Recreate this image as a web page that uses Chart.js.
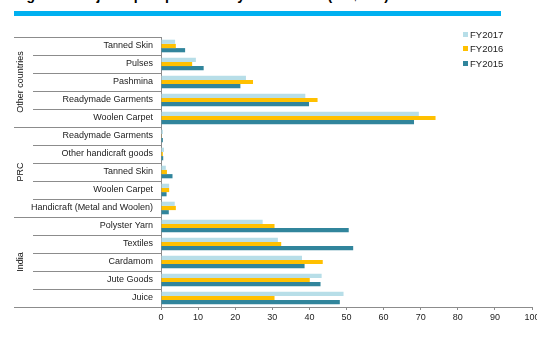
<!DOCTYPE html>
<html>
<head>
<meta charset="utf-8">
<script src="https://cdn.jsdelivr.net/npm/chart.js@4"></script>
<style>
  html, body { margin: 0; padding: 0; background: #fff; }
  #wrap { position: relative; width: 537px; height: 339px; overflow: hidden; font-family: "Liberation Sans", Arial, sans-serif; }
  #title { position: absolute; left: 14px; top: -12px; font-size: 14px; line-height: 14px; font-weight: bold; color: #000; white-space: nowrap; }
  #bar { position: absolute; left: 14px; top: 11px; width: 487px; height: 5px; background: #00B0F0; }
  #legend { position: absolute; left: 463px; top: 29px; font-size: 9.5px; color: #222; }
  #legend div { height: 14.3px; line-height: 12px; white-space: nowrap; }
  #legend span { display: inline-block; width: 5px; height: 5px; margin-right: 2px; vertical-align: 1px; }
  canvas { position: absolute; left: 0; top: 0; }
</style>
</head>
<body>
<div id="wrap">
  <div id="title">Figure 5: Major export products by destination (US$ mn)</div>
  <div id="bar"></div>
  <canvas id="c" width="537" height="339"></canvas>
  <div id="legend"></div>
</div>
<script>
// 카테고리 / 그룹
const categories = [
  'Tanned Skin', 'Pulses', 'Pashmina', 'Readymade Garments', 'Woolen Carpet',
  'Readymade Garments', 'Other handicraft goods', 'Tanned Skin', 'Woolen Carpet', 'Handicraft (Metal and Woolen)',
  'Polyster Yarn', 'Textiles', 'Cardamom', 'Jute Goods', 'Juice'
];
const groupNames = ['Other countries', 'PRC', 'India'];
const groupSizes = [5, 5, 5];

// 시리즈 값
const fy2017 = [3.8, 9.4, 22.9, 38.9, 69.5, 0.5, 0.8, 1.3, 2.2, 3.7, 27.4, 31.5, 38.0, 43.3, 49.2];
const fy2016 = [4.0, 8.4, 24.8, 42.2, 74.0, 0.1, 0.5, 1.6, 2.2, 4.0, 30.6, 32.4, 43.6, 40.1, 30.6];
const fy2015 = [6.5, 11.5, 21.4, 39.9, 68.2, 0.5, 0.6, 3.1, 1.5, 2.1, 50.6, 51.8, 38.7, 43.0, 48.2];

const xTicks = [0, 10, 20, 30, 40, 50, 60, 70, 80, 90, 100];

const series = [
  { label: 'FY2017', data: fy2017, color: '#B7DEE8' },
  { label: 'FY2016', data: fy2016, color: '#FFC000' },
  { label: 'FY2015', data: fy2015, color: '#31859C' }
];

const FONT = '"Liberation Sans", Arial, sans-serif';

// 범례
const legend = document.getElementById('legend');
series.forEach(s => {
  const row = document.createElement('div');
  row.innerHTML = `<span style="background:${s.color}"></span>${s.label}`;
  legend.appendChild(row);
});

// 왼쪽 그룹 구분선 + 그룹 이름
const groupLines = {
  id: 'groupLines',
  afterDraw(chart) {
    const { ctx, chartArea } = chart;
    const y = chart.scales.y;
    const n = categories.length;
    const step = (y.bottom - y.top) / n;
    ctx.save();
    ctx.strokeStyle = '#8c8c8c';
    ctx.lineWidth = 1;
    const bounds = [0];
    groupSizes.reduce((acc, s) => { bounds.push(acc + s); return acc + s; }, 0);
    for (let i = 0; i <= n; i++) {
      const py = Math.round(y.top + i * step) + 0.5;
      const x0 = bounds.includes(i) ? 14 : 33;
      ctx.beginPath();
      ctx.moveTo(x0, py);
      ctx.lineTo(chartArea.left, py);
      ctx.stroke();
    }
    ctx.fillStyle = '#111';
    ctx.font = '9px ' + FONT;
    ctx.textAlign = 'center';
    ctx.textBaseline = 'middle';
    groupNames.forEach((g, gi) => {
      const cy = y.top + (bounds[gi] + bounds[gi + 1]) / 2 * step;
      ctx.save();
      ctx.translate(21, cy);
      ctx.rotate(-Math.PI / 2);
      ctx.fillText(g, 0, 0);
      ctx.restore();
    });
    ctx.restore();
  }
};

new Chart(document.getElementById('c'), {
  type: 'bar',
  data: {
    labels: categories,
    datasets: series.map(s => ({
      label: s.label,
      data: s.data,
      backgroundColor: s.color,
      borderWidth: 0,
      categoryPercentage: 0.7,
      barPercentage: 1
    }))
  },
  options: {
    indexAxis: 'y',
    responsive: false,
    animation: false,
    layout: { padding: { top: 37, right: 5, left: 0, bottom: 0 } },
    plugins: {
      legend: { display: false },
      tooltip: { enabled: false }
    },
    scales: {
      x: {
        min: 0,
        max: 100,
        afterBuildTicks: scale => { scale.ticks = xTicks.map(v => ({ value: v })); },
        afterFit: scale => { scale.height = 32; scale.paddingLeft = 0; scale.paddingRight = 0; },
        grid: { drawOnChartArea: false, drawTicks: true, tickLength: 3, color: '#8c8c8c' },
        border: { color: '#8c8c8c' },
        ticks: { padding: 2, color: '#222', font: { size: 9, family: FONT } }
      },
      y: {
        afterFit: scale => { scale.width = 161; },
        grid: { display: false, drawTicks: false },
        border: { color: '#8c8c8c' },
        ticks: { padding: 8, color: '#222', autoSkip: false, font: { size: 9, family: FONT } }
      }
    }
  },
  plugins: [groupLines]
});
</script>
</body>
</html>
